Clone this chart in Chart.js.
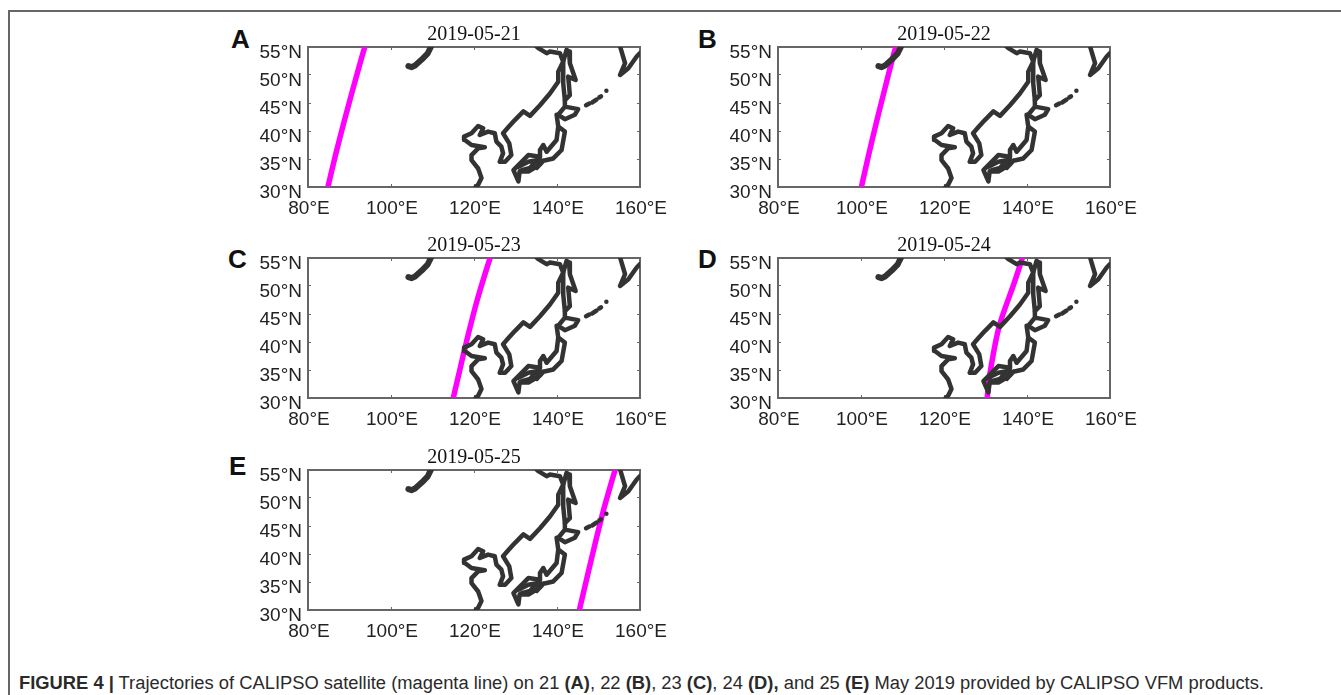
<!DOCTYPE html>
<html>
<head>
<meta charset="utf-8">
<script src="https://cdn.jsdelivr.net/npm/chart.js@4"></script>
<style>
  html, body { margin: 0; padding: 0; background: #fff; }
  body { width: 1341px; height: 695px; position: relative; overflow: hidden; }
  canvas { position: absolute; }
  .frame-top { position: absolute; left: 8px; top: 10px; right: 0; height: 2px; background: #666; }
  .frame-left { position: absolute; left: 8px; top: 10px; bottom: 0; width: 2px; background: #666; }
  .letter { position: absolute; font: bold 26px "Liberation Sans", Arial, sans-serif; color: #111; line-height: 26px; }
  .caption { position: absolute; left: 19px; top: 672px; white-space: nowrap; font: 18.35px "Liberation Sans", Arial, sans-serif; color: #2a2a2a; }
</style>
</head>
<body>
<div class="frame-top"></div>
<div class="frame-left"></div>
<div class="caption"><b>FIGURE 4 |</b> Trajectories of CALIPSO satellite (magenta line) on 21 <b>(A)</b>, 22 <b>(B)</b>, 23 <b>(C)</b>, 24 <b>(D),</b> and 25 <b>(E)</b> May 2019 provided by CALIPSO VFM products.</div>

<script>
const xTicks = [80, 100, 120, 140, 160];
const yTicks = [30, 35, 40, 45, 50, 55];
const dates = ["2019-05-21", "2019-05-22", "2019-05-23", "2019-05-24", "2019-05-25"];
const letters = ["A", "B", "C", "D", "E"];

// satellite tracks, lon/lat
const trackA = [[84.8,30],[86.7,35.9],[88.75,41.8],[90.9,47.7],[93.2,53.8],[93.7,55]];
const trackB = [[100.1,30],[101.9,35.9],[103.8,41.8],[105.8,47.7],[107.9,53.8],[108.4,55]];
const trackC = [[115,30],[116.7,35.4],[118.6,41.3],[120.7,47.3],[123.1,53.2],[123.9,55]];
const trackD = [[130.4,30],[131.1,34.5],[133.3,42.8],[136.9,50.5],[138.9,55]];
const trackE = [[145.4,30],[147.3,36],[149.2,41.9],[151.2,47.8],[153,52.5],[154,55]];
const tracks = [trackA, trackB, trackC, trackD, trackE];

// coast lines, lon/lat
const lakeShore = [[104.2,51.6],[105,51.4],[105.8,51.7],[107.4,52.75],[108.8,53.8],[109.6,55]];
const mainland = [[120.4,30],[121,30.4],[121.8,31.6],[121,33.3],[119.4,34.8],[119.4,35.7],[121,36.9],[122.6,37.1],[119.4,37.5],[117.8,38.4],[117.6,39],[119.4,39.6],[121,40.9],[122.2,40.5],[121.4,39.3],[123.4,39.9],[125,39.6],[125.4,38.1],[126.6,37.2],[127,36],[126.2,34.5],[127.5,34.5],[129,35.7],[128.5,37.8],[127,39.6],[128.3,40.7],[129.9,42],[131.9,43.5],[133.5,42.7],[135.9,44.6],[138.3,46.7],[140.3,48.8],[140.3,50.6],[141.5,52.4],[140.7,53.9],[138.3,54.2],[137.5,53.9],[135.5,54.8],[134.9,55.2]];
const sakhalin = [[141.5,52.4],[142.3,54.5],[142.9,54.2],[143.1,52.1],[144.5,49.1],[142.7,49.7],[143.1,46.4],[141.9,45.5],[141.5,48.5],[141.5,52.4]];
const hokkaido = [[141.9,45.5],[141.9,44.35],[145.1,43.9],[144.3,42.9],[141.9,42.1],[140.3,42.9],[141.9,44.35]];
const honshu = [[139.9,42.9],[140.3,40.8],[141.9,39.9],[141.1,36.6],[139.1,35.1],[136.7,34.7],[135.1,33.4],[135.9,35.4],[133.1,35.7],[129.5,33],[130.7,31],[131,32.8],[133.1,32.75],[135.9,34],[136.7,34.7]];
const honshuInner = [[140.3,40.8],[139.9,38.4],[137.5,36.3],[136.7,37.5],[135.9,36.6],[135.9,35.4]];
const innerSea = [[130.7,33.6],[133.1,34.5],[135.1,34.8],[133.5,33.4],[131.5,33]];
const kamchatka = [[155.2,55.1],[156.4,52.1],[155.2,50],[157.2,51.2],[159.2,53.3],[160,53.9]];
const kurilA = [[147,44.6],[147.8,44.9]];
const kurilB = [[148.5,45.1],[149.5,45.6]];
const kurilC = [[150.2,46],[150.6,46.2]];
const kurilD = [[151.9,47.2],[152,47.2]];
const coasts = [lakeShore, mainland, sakhalin, hokkaido, honshu, honshuInner, innerSea, kamchatka, kurilA, kurilB, kurilC, kurilD];

// page position of each plot box: left, top, width, height
const boxes = [[308,47,332,140],[778,47,332,140],[308,258,332,140],[778,258,332,140],[308,470,332,140]];
const letterPos = [[231,26],[698,26],[228,246],[698,246],[229,453]];

const tickFont = { family: '"Liberation Sans", Arial, sans-serif', size: 19 };

function toPoints(list) {
  return list.map(p => ({ x: p[0], y: p[1] }));
}

function setTicks(values) {
  return scale => { scale.ticks = values.map(v => ({ value: v })); };
}

function axis(position, min, max, values, extra) {
  const horiz = position === "bottom" || position === "top";
  return Object.assign({
    type: "linear", position: position, min: min, max: max,
    afterBuildTicks: setTicks(values),
    border: { color: "#666", width: 2 },
    grid: { drawOnChartArea: false, tickLength: -3, tickColor: "#666", tickWidth: 1 },
    ticks: { display: false },
    afterFit: s => { if (horiz) s.height = 0; else s.width = 58; }
  }, extra || {});
}

dates.forEach((date, i) => {
  const box = boxes[i];
  const canvas = document.createElement("canvas");
  canvas.width = 448;
  canvas.height = 200;
  canvas.style.left = (box[0] - 58) + "px";
  canvas.style.top = (box[1] - 30) + "px";
  document.body.appendChild(canvas);

  const letter = document.createElement("div");
  letter.className = "letter";
  letter.textContent = letters[i];
  letter.style.left = letterPos[i][0] + "px";
  letter.style.top = letterPos[i][1] + "px";
  document.body.appendChild(letter);

  const datasets = coasts.map(c => ({
    data: toPoints(c), showLine: true, pointRadius: 0,
    borderColor: "#333", borderWidth: c === lakeShore ? 6 : 4.5,
    borderCapStyle: "round", borderJoinStyle: "round"
  }));
  datasets.push({
    data: toPoints(tracks[i]), showLine: true, pointRadius: 0, tension: 0.3,
    borderColor: "#ff00ff", borderWidth: 5.5
  });

  new Chart(canvas.getContext("2d"), {
    type: "scatter",
    data: { datasets: datasets },
    options: {
      responsive: false,
      animation: false,
      layout: { padding: 0 },
      plugins: {
        legend: { display: false },
        tooltip: { enabled: false },
        title: {
          display: true, text: date, color: "#111",
          font: { family: '"Liberation Serif", "Times New Roman", serif', size: 20, weight: "normal", lineHeight: 1.2 },
          padding: { top: 6, bottom: 0 }
        }
      },
      scales: {
        x: axis("bottom", 80, 160, xTicks, {
          ticks: { font: tickFont, color: "#222", padding: 13, maxRotation: 0, autoSkip: false, labelOffset: 1, callback: v => v + "°E" },
          afterFit: s => { s.height = 30; }
        }),
        y: axis("left", 30, 55, yTicks, {
          ticks: { font: tickFont, color: "#222", padding: 9, autoSkip: false, labelOffset: 6, callback: v => v + "°N" }
        }),
        x2: axis("top", 80, 160, xTicks),
        y2: axis("right", 30, 55, yTicks)
      }
    }
  });
});
</script>
</body>
</html>
